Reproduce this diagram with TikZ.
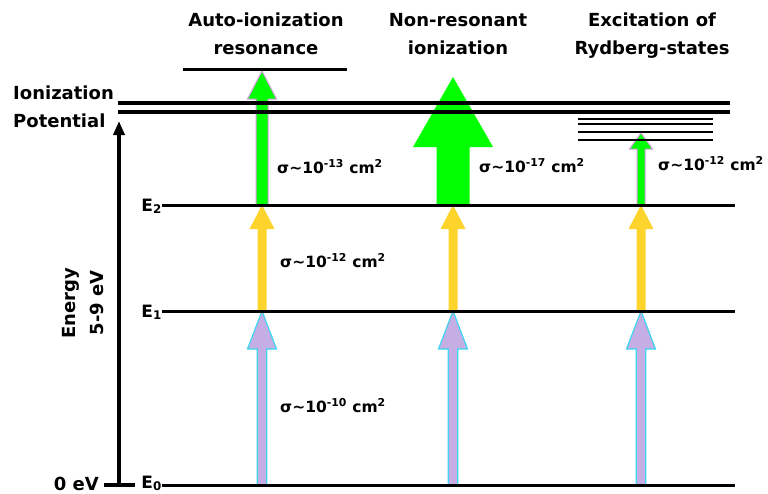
\documentclass[tikz,border=0pt]{standalone}
\usepackage{fontspec}
\setmainfont{DejaVu Sans}
\usetikzlibrary{calc,arrows.meta}

\definecolor{lilac}{HTML}{C5AEE3}
\definecolor{cyanedge}{HTML}{3DD5F0}
\definecolor{gold}{HTML}{FCD42C}
\definecolor{brightgreen}{HTML}{00FF00}
\definecolor{pinkedge}{HTML}{D89AE0}

\tikzset{
  level/.style={line width=3pt},
  ionline/.style={line width=4.5pt},
  rydline/.style={line width=2pt},
  txt/.style={font=\bfseries\fontsize{18}{28}\selectfont, inner sep=0pt},
  elbl/.style={font=\bfseries\fontsize{17}{18}\selectfont, inner sep=0pt},
  sigma/.style={font=\bfseries\fontsize{15.5}{16}\selectfont, inner sep=0pt, anchor=base west},
  step1/.style={fill=lilac, draw=cyanedge, line width=1.2pt},
  step2/.style={fill=gold},
  step3/.style={fill=brightgreen, draw=pinkedge, line width=1pt},
  step3wide/.style={fill=brightgreen}
}

% arrow between two levels: style, from, to, shaft half, head half, head length
\newcommand\lvlarrow[6]{%
  \path[#1] ($(#2)+(-#4,0)$) -- ($(#3)+(-#4,#6)$) -- ($(#3)+(-#5,#6)$) -- (#3)
    -- ($(#3)+(#5,#6)$) -- ($(#3)+(#4,#6)$) -- ($(#2)+(#4,0)$) -- cycle;}

\newcommand\sig[1]{σ\textasciitilde10\textsuperscript{#1} cm\textsuperscript{2}}

\begin{document}
\begin{tikzpicture}[x=1pt,y=-1pt]
    \useasboundingbox (0,0) rectangle (768,493);

    % column points
    \foreach \c/\x in {a/262,b/453,c/641}{
      \coordinate (\c0) at (\x,485);
      \coordinate (\c1) at (\x,311);
      \coordinate (\c2) at (\x,205);
    }
    \coordinate (atop) at (262,71);
    \coordinate (btop) at (453,77);
    \coordinate (ctop) at (641,133);

    % transitions
    \lvlarrow{step1}{a0}{a1}{4.7}{14.5}{38}
    \lvlarrow{step1}{b0}{b1}{4.7}{14.5}{38}
    \lvlarrow{step1}{c0}{c1}{4.7}{14.5}{38}
    \lvlarrow{step2}{a1}{a2}{4.5}{12.5}{24}
    \lvlarrow{step2}{b1}{b2}{4.5}{12.5}{24}
    \lvlarrow{step2}{c1}{c2}{4.5}{12.5}{24}
    \lvlarrow{step3}{a2}{atop}{6}{14.5}{28}
    \lvlarrow{step3wide}{b2}{btop}{16.5}{40}{70}
    \lvlarrow{step3}{c2}{ctop}{4}{11.5}{16}

    % levels
    \node[elbl, anchor=base east] (e0) at (162,488) {E\textsubscript{0}};
    \node[elbl, anchor=base east] (e1) at (162,317) {E\textsubscript{1}};
    \node[elbl, anchor=base east] (e2) at (162,211) {E\textsubscript{2}};
    \coordinate (e0end) at (735,485);
    \coordinate (e1end) at (735,311);
    \coordinate (e2end) at (735,205);
    \draw[level] (e0end -| e0.east) -- (e0end);
    \draw[level] (e1end -| e1.east) -- (e1end);
    \draw[level] (e2end -| e2.east) -- (e2end);

    \draw[ionline] (118,103) -- (730,103);
    \draw[ionline] (118,112) -- (730,112);
    \draw[level] (183,69) -- (347,69);
    \foreach \y in {119,124,132,140}
      \draw[rydline] (578,\y) -- (713,\y);

    % energy axis
    \coordinate (axbot) at (119,485);
    \coordinate (axtop) at (119,121);
    \coordinate (tickl) at (104,485);
    \coordinate (tickr) at (135,485);
    \draw[line width=4pt] (tickl) -- (tickr);
    \draw[line width=4pt, -{Triangle[width=11pt,length=14pt]}] (axbot) -- (axtop);
    \node[txt, anchor=base east] (zero) at (99,490) {0 eV};
    \node[txt, rotate=90, align=center] (energy) at (83,303) {Energy\\5-9 eV};
    \node[txt, anchor=base west] (ionz) at (13,99) {Ionization};
    \node[txt, anchor=base west] (pot) at (13,127) {Potential};

    % titles
    \node[txt, align=center, anchor=base] (auto) at (266,54) {Auto-ionization\\resonance};
    \node[txt, align=center, anchor=base] (nonres) at (458,54) {Non-resonant\\ionization};
    \node[txt, align=center, anchor=base] (ryd) at (652,54) {Excitation of\\Rydberg-states};

    % cross sections
    \node[sigma] (s13) at (277,173) {\sig{-13}};
    \node[sigma] (s17) at (479,172) {\sig{-17}};
    \node[sigma] (s12r) at (658,170) {\sig{-12}};
    \node[sigma] (s12) at (280,267) {\sig{-12}};
    \node[sigma] (s10) at (280,412) {\sig{-10}};
\end{tikzpicture}
\end{document}
